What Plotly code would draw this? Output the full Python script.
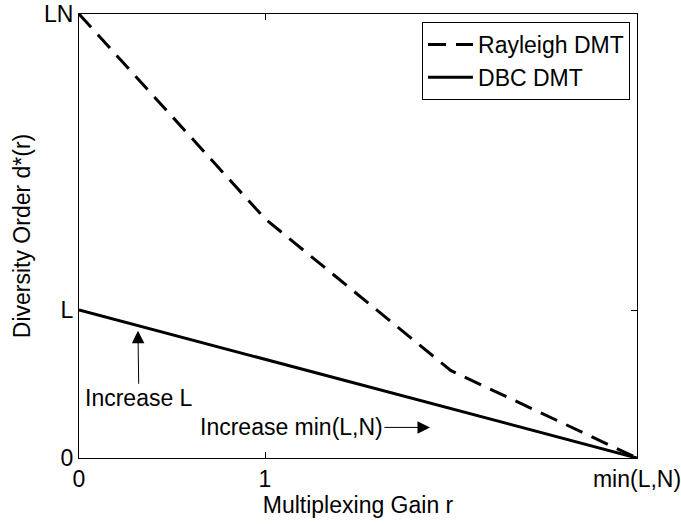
import plotly.graph_objects as go

# Data (L = N = 3 in schematic units)
r_rayleigh = [0, 1, 2, 3]
d_rayleigh = [9, 4.85, 1.77, 0]
r_dbc = [0, 3]
d_dbc = [3, 0]

x_tickvals = [0, 1, 3]
x_ticktext = ["0", "1", "min(L,N)"]
y_tickvals = [0, 3, 9]
y_ticktext = ["0", "L", "LN"]

FONT = dict(family="Liberation Sans, Arial, Helvetica, sans-serif", size=23, color="black")

fig = go.Figure()
fig.add_trace(go.Scatter(x=r_rayleigh, y=d_rayleigh, mode="lines", name="Rayleigh DMT",
                         line=dict(color="black", width=3, dash="18px,10px"), cliponaxis=False))
fig.add_trace(go.Scatter(x=r_dbc, y=d_dbc, mode="lines", name="DBC DMT",
                         line=dict(color="black", width=3), cliponaxis=False))

fig.add_annotation(x=0.317, y=2.58, ax=0.322, ay=1.21, xref="x", yref="y", axref="x", ayref="y",
                   text="Increase L", showarrow=True, arrowhead=2, arrowsize=2.5, arrowwidth=1,
                   arrowcolor="black", font=FONT, standoff=0)
fig.add_annotation(x=1.887, y=0.62, ax=1.142, ay=0.62, xref="x", yref="y", axref="x", ayref="y",
                   text="Increase min(L,N)", showarrow=True, arrowhead=2, arrowsize=2.5, arrowwidth=1,
                   arrowcolor="black", font=FONT, standoff=0)

fig.update_layout(
    width=681, height=524,
    margin=dict(l=79, r=44, t=14, b=66),
    paper_bgcolor="white", plot_bgcolor="white",
    font=FONT,
    showlegend=True,
    legend=dict(x=0.9875, y=0.982, xanchor="right", yanchor="top",
                bordercolor="black", borderwidth=1, bgcolor="white",
                font=FONT, itemwidth=45, tracegroupgap=0),
)
fig.update_xaxes(range=[0, 3], tickvals=x_tickvals, ticktext=x_ticktext,
                 showline=True, linecolor="black", linewidth=1, mirror="ticks",
                 ticks="inside", ticklen=6, tickcolor="black", showgrid=False, zeroline=False,
                 tickfont=FONT, ticklabeloverflow="allow", automargin=False,
                 title=dict(text="Multiplexing Gain r", standoff=0, font=FONT))
fig.update_yaxes(range=[0, 9], tickvals=y_tickvals, ticktext=y_ticktext,
                 showline=True, linecolor="black", linewidth=1, mirror="ticks",
                 ticks="inside", ticklen=6, tickcolor="black", showgrid=False, zeroline=False,
                 tickfont=FONT, ticklabeloverflow="allow", automargin=False,
                 title=dict(text="Diversity Order d*(r)", standoff=6, font=FONT))

fig.write_html("out.html", config={"displayModeBar": False},
               post_script="document.body.style.margin='0';document.body.style.overflow='hidden';")
